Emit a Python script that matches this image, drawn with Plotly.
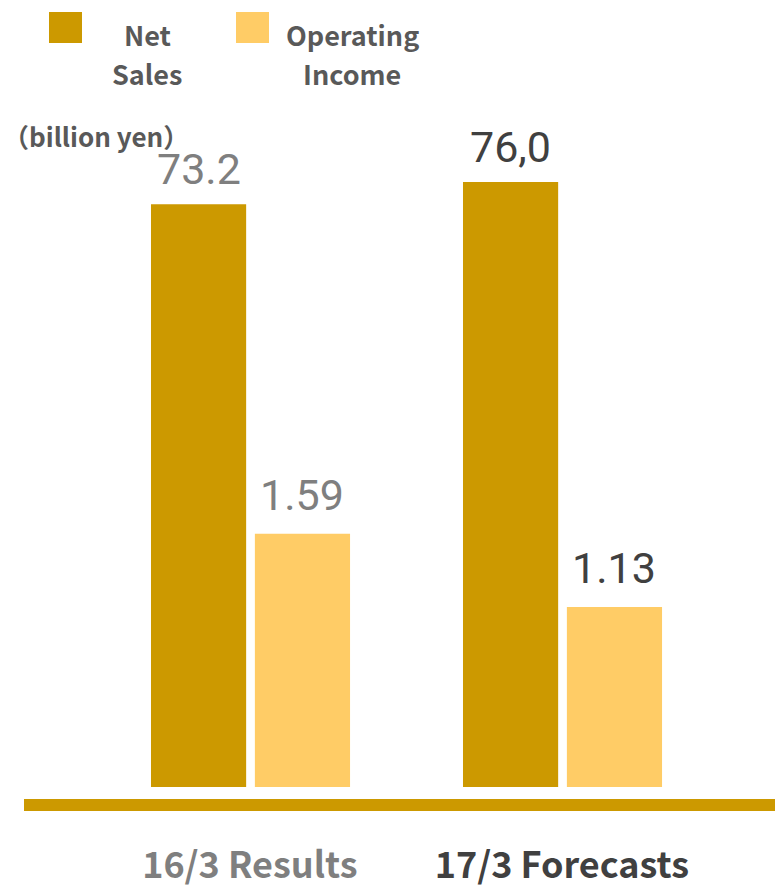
import plotly.graph_objects as go

categories = ["16/3 Results", "17/3 Forecasts"]
category_colors = ["#7F7F7F", "#404040"]
net_sales = [73.2, 76.0]
net_sales_labels = ["73.2", "76,0"]
operating_income = [1.59, 1.13]
operating_income_labels = ["1.59", "1.13"]
legend_names = [["Net", "Sales"], ["Operating", "Income"]]
unit_label = "（billion yen）"

NS_COLOR = "#CC9900"
OI_COLOR = "#FFCC66"
TEXT_COLOR = "#595959"

xs = list(range(len(categories)))
BAR_W = 0.305
NS_OFF = -0.317
OI_OFF = 0.016

fig = go.Figure()
fig.add_trace(go.Bar(x=xs, y=net_sales, width=BAR_W, offset=NS_OFF,
                     marker=dict(color=NS_COLOR, line=dict(width=0)),
                     name="Net Sales", yaxis="y", showlegend=False))
fig.add_trace(go.Bar(x=xs, y=operating_income, width=BAR_W, offset=OI_OFF,
                     marker=dict(color=OI_COLOR, line=dict(width=0)),
                     name="Operating Income", yaxis="y2", showlegend=False))

num_font = "Roboto, Noto Sans CJK JP, sans-serif"
for i in xs:
    fig.add_annotation(x=i + NS_OFF + BAR_W / 2, y=net_sales[i], xref="x", yref="y",
                       text=net_sales_labels[i], showarrow=False, yanchor="bottom",
                       yshift=8, font=dict(family=num_font, size=43, color=category_colors[i]))
    fig.add_annotation(x=i + OI_OFF + BAR_W / 2, y=operating_income[i], xref="x", yref="y2",
                       text=operating_income_labels[i], showarrow=False, yanchor="bottom",
                       yshift=12, font=dict(family=num_font, size=43, color=category_colors[i]))

# legend (custom, large swatches)
legend_colors = [NS_COLOR, OI_COLOR]
sw_x = [49, 236]
txt_x = [147, 352]
for k in range(2):
    fig.add_shape(type="rect", xref="paper", yref="paper",
                  x0=(sw_x[k] - 24) / 751, x1=(sw_x[k] + 33 - 24) / 751,
                  y0=(799 - 43) / 699, y1=(799 - 12) / 699,
                  fillcolor=legend_colors[k], line=dict(width=0))
    for j, line in enumerate(legend_names[k]):
        fig.add_annotation(x=(txt_x[k] - 24) / 751, y=(799 - (34 + 39 * j)) / 699,
                           xref="paper", yref="paper", text=f"<b>{line}</b>", showarrow=False,
                           xanchor="center", yanchor="middle",
                           font=dict(family="Noto Sans CJK JP", size=27, color=TEXT_COLOR))

fig.add_annotation(x=(1 - 24) / 751, y=(799 - 135) / 699, xref="paper", yref="paper",
                   text=f"<b>{unit_label}</b>", showarrow=False, xanchor="left", yanchor="middle",
                   font=dict(family="Noto Sans CJK JP", size=26, color=TEXT_COLOR))

ticktext = [f'<span style="color:{c}"><b>{t}</b></span>' for t, c in zip(categories, category_colors)]

fig.update_layout(
    width=775, height=889,
    margin=dict(l=24, r=0, t=100, b=90),
    paper_bgcolor="white", plot_bgcolor="white",
    barmode="overlay",
    xaxis=dict(range=[-0.724, 1.683], tickvals=xs, ticktext=ticktext, automargin=False,
               showgrid=False, zeroline=False, showline=True, linecolor=NS_COLOR, linewidth=12,
               ticks="", ticklabelstandoff=24,
               tickfont=dict(family="Noto Sans CJK JP", size=36)),
    yaxis=dict(range=[-12 / 7.962, 687 / 7.962], visible=False, showgrid=False, zeroline=False),
    yaxis2=dict(range=[-12 / 159.2, 687 / 159.2], overlaying="y", visible=False,
                showgrid=False, zeroline=False),
)

fig.write_html("out.html")
